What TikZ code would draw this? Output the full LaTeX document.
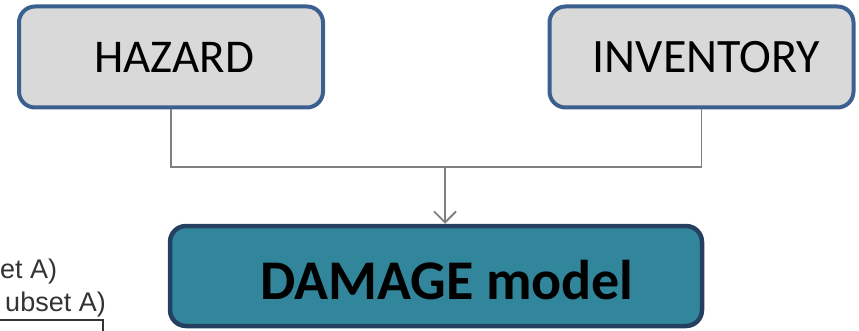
\documentclass[tikz,border=0pt]{standalone}
\usepackage{fontspec}
\setmainfont{Carlito}
\newfontfamily\arialfont{Liberation Sans}
\usetikzlibrary{arrows.meta}
\definecolor{boxgray}{HTML}{D9D9D9}
\definecolor{boxblue}{HTML}{3B5F8E}
\definecolor{tealfill}{HTML}{31869B}
\definecolor{tealedge}{HTML}{243F60}
\definecolor{linegray}{HTML}{7F7F7F}
\definecolor{fragtext}{HTML}{333333}
\tikzset{
  inputbox/.style={draw=boxblue, fill=boxgray, line width=4pt, rounded corners=16pt,
    minimum width=304pt, minimum height=101pt, inner sep=0pt,
    font=\fontsize{47}{52}\selectfont, text=black},
  modelbox/.style={draw=tealedge, fill=tealfill, line width=4.5pt, rounded corners=16pt,
    minimum width=532pt, minimum height=100pt, inner sep=0pt},
  conn/.style={draw=linegray, line width=1.8pt},
  fragtxt/.style={inner sep=0pt, text=fragtext,
    font=\arialfont\fontsize{27}{29}\selectfont}
}
\begin{document}
\begin{tikzpicture}[x=1pt,y=-1pt]
\useasboundingbox (0,0) rectangle (859,331);
% input boxes
\node[inputbox] (haz) at (171,57) {\hspace*{6pt}HAZARD};
\node[inputbox, font=\fontsize{48}{52}\selectfont] (inv) at (701.5,57) {\hspace*{10pt}INVENTORY};
% model box
\node[modelbox] (dam) at (436,276) {};
\node[font=\bfseries\fontsize{56}{60}\selectfont, text=black, inner sep=0pt] (damtxt) at (447,280) {DAMAGE model};
% connectors
\coordinate (join) at (445,167);
\draw[conn] (haz.south) |- (join);
\draw[conn] (inv.south) |- (join);
\draw[conn, -{Straight Barb[length=11pt,width=22pt,line width=1.8pt]}] (join) -- (join |- dam.north);
% cropped fragment at lower left
\node[fragtxt, anchor=base west] (fa) at (0,278) {et A)};
\node[fragtxt, anchor=base east] (fb) at (106,311) {ubset A)};
\coordinate (fl1) at (0,320);
\coordinate (fl2) at (103,320);
\coordinate (fl3) at (103,331);
\draw[line width=1.2pt, black!80] (fl1) -- (fl2) -- (fl3);
\end{tikzpicture}
\end{document}
